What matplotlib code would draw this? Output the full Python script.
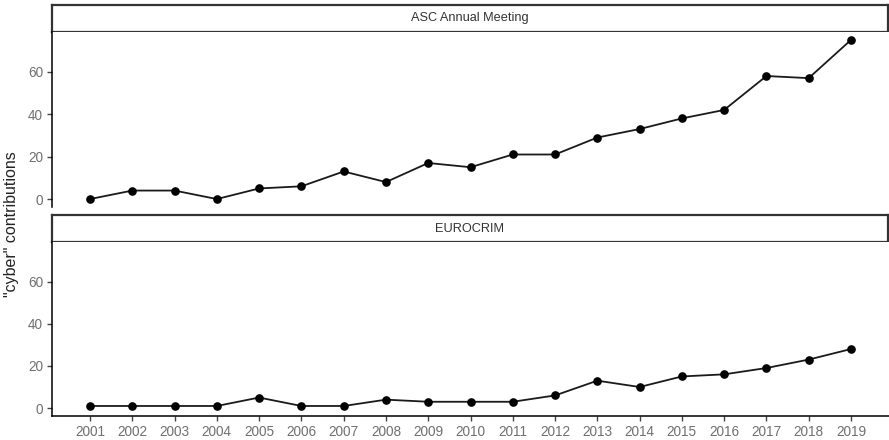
import matplotlib
matplotlib.use("Agg")
import matplotlib.pyplot as plt

plt.rcParams['font.family'] = ['Liberation Sans', 'DejaVu Sans']

years = list(range(2001, 2020))
asc = [0, 4, 4, 0, 5, 6, 13, 8, 17, 15, 21, 21, 29, 33, 38, 42, 58, 57, 75]
eurocrim = [1, 1, 1, 1, 5, 1, 1, 4, 3, 3, 3, 6, 13, 10, 15, 16, 19, 23, 28]
panel_titles = ["ASC Annual Meeting", "EUROCRIM"]
yticks = [0, 20, 40, 60]

W, H = 889, 440
fig = plt.figure(figsize=(W / 100, H / 100), dpi=100)

def box(x0, y0, x1, y1):
    # pixel coords (top-left origin) -> figure fraction
    return [x0 / W, 1 - y1 / H, (x1 - x0) / W, (y1 - y0) / H]

# panels: (strip top, strip bottom, panel bottom)
layout = [(5, 32, 207), (215, 242, 416)]
series = [asc, eurocrim]

for i, (st, sb, pb) in enumerate(layout):
    # strip
    sax = fig.add_axes(box(52, st, 888, sb))
    sax.set_xticks([]); sax.set_yticks([])
    for s in sax.spines.values():
        s.set_color('#333333')
        s.set_linewidth(1.6)
    sax.text(0.5, 0.5, panel_titles[i], ha='center', va='center',
             fontsize=9.2, color='#333333', transform=sax.transAxes)

    ax = fig.add_axes(box(52, sb, 889, pb))
    ax.plot(years, series[i], color='#1a1a1a', linewidth=1.3, marker='o',
            markersize=5.2, markerfacecolor='black', markeredgecolor='black')
    ax.set_xlim(2001 - 0.9, 2019 + 0.9)
    ax.set_ylim(-3.75, 78.75)
    ax.set_yticks(yticks)
    ax.spines['top'].set_visible(False)
    ax.spines['right'].set_visible(False)
    ax.spines['left'].set_linewidth(1.1)
    ax.spines['bottom'].set_linewidth(1.1)
    ax.tick_params(axis='both', labelsize=9.8, labelcolor='#707070', color='#444444',
                   length=3.5, width=1, pad=3)
    if i == 0:
        ax.spines['bottom'].set_visible(False)
        ax.set_xticks([])
    else:
        ax.set_xticks(years)

fig.text(12 / W, 1 - 224 / H, '"cyber" contributions', rotation=90,
         ha='center', va='center', fontsize=11.5, color='#222222')

fig.savefig("out.png", dpi=100)
